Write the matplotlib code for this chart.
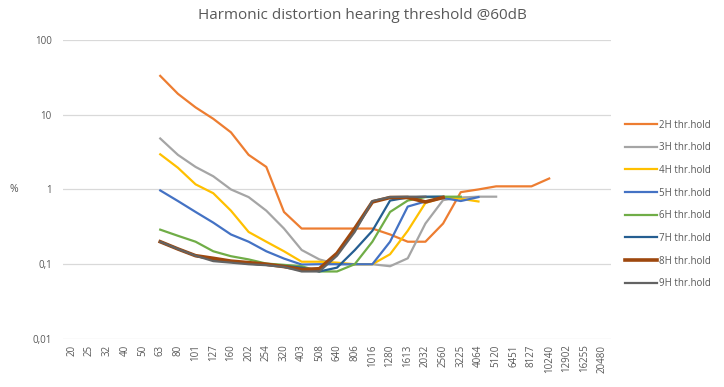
import numpy as np
import matplotlib
matplotlib.use("Agg")
import matplotlib.pyplot as plt
from matplotlib.ticker import FixedLocator, NullLocator

freqs = ["20", "25", "32", "40", "50", "63", "80", "101", "127", "160", "202", "254",
         "320", "403", "508", "640", "806", "1016", "1280", "1613", "2032", "2560",
         "3225", "4064", "5120", "6451", "8127", "10240", "12902", "16255", "20480"]

n = np.nan
# values start at 63 Hz (index 5)
h2 = [33, 19, 12.5, 8.8, 5.8, 2.9, 2.0, 0.5, 0.3, 0.3, 0.3, 0.3, 0.3, 0.25, 0.2, 0.2,
      0.35, 0.92, 1.0, 1.1, 1.1, 1.1, 1.4]
h3 = [4.8, 2.9, 2.0, 1.5, 1.0, 0.79, 0.52, 0.3, 0.155, 0.116, 0.1, 0.1, 0.1, 0.094,
      0.12, 0.35, 0.72, 0.78, 0.8, 0.8]
h4 = [2.95, 1.95, 1.17, 0.89, 0.52, 0.27, 0.2, 0.149, 0.108, 0.108, 0.105, 0.1, 0.1,
      0.136, 0.28, 0.66, 0.78, 0.75, 0.69]
h5 = [0.97, 0.7, 0.5, 0.36, 0.25, 0.2, 0.149, 0.119, 0.099, 0.1, 0.1, 0.1, 0.1, 0.2,
      0.59, 0.69, 0.77, 0.7, 0.79]
h6 = [0.29, 0.24, 0.2, 0.149, 0.128, 0.116, 0.102, 0.098, 0.094, 0.08, 0.08, 0.1,
      0.2, 0.5, 0.71, 0.79, 0.8, 0.8]
h7 = [0.2, 0.16, 0.13, 0.115, 0.108, 0.102, 0.098, 0.095, 0.09, 0.08, 0.09, 0.154,
      0.28, 0.71, 0.78, 0.8, 0.8]
h8 = [0.2, 0.16, 0.13, 0.12, 0.11, 0.105, 0.1, 0.093, 0.085, 0.087, 0.14, 0.3, 0.68,
      0.78, 0.78, 0.68, 0.78]
h9 = [0.2, 0.16, 0.13, 0.11, 0.105, 0.1, 0.097, 0.092, 0.08, 0.08, 0.13, 0.27, 0.7,
      0.79, 0.8, 0.8]

series = [
    ("2H thr.hold", h2, "#ED7D31", 1.6),
    ("3H thr.hold", h3, "#A5A5A5", 1.6),
    ("4H thr.hold", h4, "#FFC000", 1.6),
    ("5H thr.hold", h5, "#4472C4", 1.6),
    ("6H thr.hold", h6, "#70AD47", 1.6),
    ("7H thr.hold", h7, "#255E91", 1.6),
    ("8H thr.hold", h8, "#9E480E", 2.6),
    ("9H thr.hold", h9, "#636363", 1.6),
]

plt.rcParams['font.family'] = ['Open Sans', 'DejaVu Sans']

fig = plt.figure(figsize=(7.24, 3.87), dpi=100)
ax = fig.add_axes([0.087, 0.124, 0.757, 0.773])

x = np.arange(len(freqs))
for name, vals, col, lw in series:
    y = np.full(len(freqs), n)
    y[5:5 + len(vals)] = vals
    ax.plot(x, y, color=col, lw=lw, label=name, solid_joinstyle="round")

ax.set_yscale("log")
ax.set_ylim(0.01, 100)
ax.set_xlim(-0.5, len(freqs) - 0.5)
ax.yaxis.set_major_locator(FixedLocator([0.01, 0.1, 1, 10, 100]))
ax.yaxis.set_minor_locator(NullLocator())
ax.set_yticklabels(["0,01", "0,1", "1", "10", "100"])
ax.set_xticks(x)
ax.set_xticklabels(freqs, rotation=90)
ax.tick_params(length=0, labelsize=7, colors="#595959", pad=8)
ax.tick_params(axis="x", pad=4)
ax.grid(axis="y", color="#D9D9D9", lw=0.9)
ax.set_axisbelow(True)
for s in ax.spines.values():
    s.set_visible(False)

fig.text(0.019, 0.511, "%", fontsize=7.5, color="#595959", ha="center", va="center")
fig.suptitle("Harmonic distortion hearing threshold @60dB", x=0.5, y=0.98,
             fontsize=11, color="#595959")

leg = ax.legend(loc="center left", bbox_to_anchor=(1.01, 0.45), frameon=False,
                fontsize=7, labelcolor="#595959", handlelength=3.3, handletextpad=0.2,
                labelspacing=1.2)

fig.savefig("out.png", dpi=100)
